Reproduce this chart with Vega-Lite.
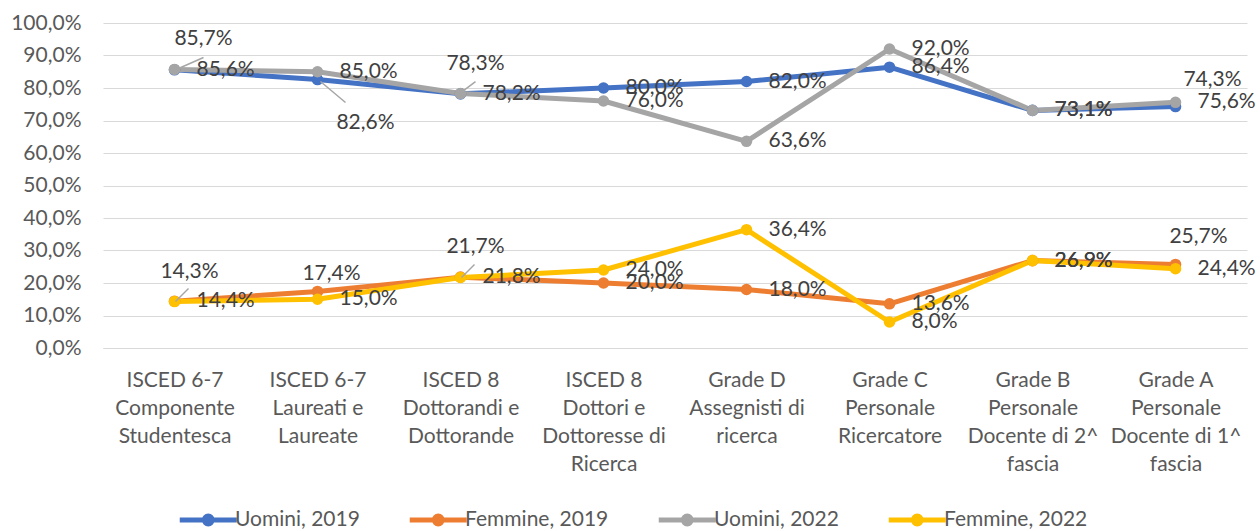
{
  "$schema": "https://vega.github.io/schema/vega-lite/v6.json",
  "width": 1144,
  "height": 325,
  "autosize": {"type": "none"},
  "padding": {"left": 103, "top": 23, "right": 13, "bottom": 183},
  "background": "white",
  "config": {
    "font": "Lato",
    "view": {"stroke": null},
    "locale": {"number": {"decimal": ",", "thousands": ".", "grouping": [3], "currency": ["€", ""]}}
  },
  "data": {
    "values": [
      {"cat": "ISCED 6-7 Componente Studentesca", "serie": "Uomini, 2019", "val": 0.856},
      {"cat": "ISCED 6-7 Laureati e Laureate", "serie": "Uomini, 2019", "val": 0.826},
      {"cat": "ISCED 8 Dottorandi e Dottorande", "serie": "Uomini, 2019", "val": 0.782},
      {"cat": "ISCED 8 Dottori e Dottoresse di Ricerca", "serie": "Uomini, 2019", "val": 0.800},
      {"cat": "Grade D Assegnisti di ricerca", "serie": "Uomini, 2019", "val": 0.820},
      {"cat": "Grade C Personale Ricercatore", "serie": "Uomini, 2019", "val": 0.864},
      {"cat": "Grade B Personale Docente di 2^ fascia", "serie": "Uomini, 2019", "val": 0.731},
      {"cat": "Grade A Personale Docente di 1^ fascia", "serie": "Uomini, 2019", "val": 0.743},
      {"cat": "ISCED 6-7 Componente Studentesca", "serie": "Femmine, 2019", "val": 0.144},
      {"cat": "ISCED 6-7 Laureati e Laureate", "serie": "Femmine, 2019", "val": 0.174},
      {"cat": "ISCED 8 Dottorandi e Dottorande", "serie": "Femmine, 2019", "val": 0.218},
      {"cat": "ISCED 8 Dottori e Dottoresse di Ricerca", "serie": "Femmine, 2019", "val": 0.200},
      {"cat": "Grade D Assegnisti di ricerca", "serie": "Femmine, 2019", "val": 0.180},
      {"cat": "Grade C Personale Ricercatore", "serie": "Femmine, 2019", "val": 0.136},
      {"cat": "Grade B Personale Docente di 2^ fascia", "serie": "Femmine, 2019", "val": 0.269},
      {"cat": "Grade A Personale Docente di 1^ fascia", "serie": "Femmine, 2019", "val": 0.257},
      {"cat": "ISCED 6-7 Componente Studentesca", "serie": "Uomini, 2022", "val": 0.857},
      {"cat": "ISCED 6-7 Laureati e Laureate", "serie": "Uomini, 2022", "val": 0.850},
      {"cat": "ISCED 8 Dottorandi e Dottorande", "serie": "Uomini, 2022", "val": 0.783},
      {"cat": "ISCED 8 Dottori e Dottoresse di Ricerca", "serie": "Uomini, 2022", "val": 0.760},
      {"cat": "Grade D Assegnisti di ricerca", "serie": "Uomini, 2022", "val": 0.636},
      {"cat": "Grade C Personale Ricercatore", "serie": "Uomini, 2022", "val": 0.920},
      {"cat": "Grade B Personale Docente di 2^ fascia", "serie": "Uomini, 2022", "val": 0.731},
      {"cat": "Grade A Personale Docente di 1^ fascia", "serie": "Uomini, 2022", "val": 0.756},
      {"cat": "ISCED 6-7 Componente Studentesca", "serie": "Femmine, 2022", "val": 0.143},
      {"cat": "ISCED 6-7 Laureati e Laureate", "serie": "Femmine, 2022", "val": 0.150},
      {"cat": "ISCED 8 Dottorandi e Dottorande", "serie": "Femmine, 2022", "val": 0.217},
      {"cat": "ISCED 8 Dottori e Dottoresse di Ricerca", "serie": "Femmine, 2022", "val": 0.240},
      {"cat": "Grade D Assegnisti di ricerca", "serie": "Femmine, 2022", "val": 0.364},
      {"cat": "Grade C Personale Ricercatore", "serie": "Femmine, 2022", "val": 0.080},
      {"cat": "Grade B Personale Docente di 2^ fascia", "serie": "Femmine, 2022", "val": 0.269},
      {"cat": "Grade A Personale Docente di 1^ fascia", "serie": "Femmine, 2022", "val": 0.244}
    ]
  },
  "encoding": {
    "x": {
      "field": "cat", "type": "nominal", "sort": null,
      "scale": {"type": "point", "padding": 0.5},
      "axis": {
        "title": null, "labelAngle": 0, "ticks": false, "grid": false,
        "domainColor": "#D9D9D9", "domainWidth": 1,
        "labelFont": "Lato", "labelFontSize": 21, "labelColor": "#595959",
        "labelLineHeight": 28, "labelPadding": 21, "labelBaseline": "top",
        "labelExpr": "datum.label == 'ISCED 6-7 Componente Studentesca' ? ['ISCED 6-7','Componente','Studentesca'] : datum.label == 'ISCED 6-7 Laureati e Laureate' ? ['ISCED 6-7','Laureati e','Laureate'] : datum.label == 'ISCED 8 Dottorandi e Dottorande' ? ['ISCED 8','Dottorandi e','Dottorande'] : datum.label == 'ISCED 8 Dottori e Dottoresse di Ricerca' ? ['ISCED 8','Dottori e','Dottoresse di','Ricerca'] : datum.label == 'Grade D Assegnisti di ricerca' ? ['Grade D','Assegnisti di','ricerca'] : datum.label == 'Grade C Personale Ricercatore' ? ['Grade C','Personale','Ricercatore'] : datum.label == 'Grade B Personale Docente di 2^ fascia' ? ['Grade B','Personale','Docente di 2^','fascia'] : ['Grade A','Personale','Docente di 1^','fascia']"
      }
    },
    "y": {
      "field": "val", "type": "quantitative",
      "scale": {"domain": [0, 1], "nice": false, "zero": true},
      "axis": {
        "title": null, "format": ".1%", "values": [0, 0.1, 0.2, 0.3, 0.4, 0.5, 0.6, 0.7, 0.8, 0.9, 1],
        "domain": false, "ticks": false, "grid": true, "gridColor": "#D9D9D9", "gridWidth": 1,
        "labelFont": "Lato", "labelFontSize": 21, "labelColor": "#595959", "labelPadding": 22
      }
    }
  },
  "layer": [
    {
      "mark": {"type": "line", "strokeWidth": 5, "strokeCap": "round", "strokeJoin": "round"},
      "encoding": {
        "color": {
          "field": "serie", "type": "nominal",
          "scale": {"domain": ["Uomini, 2019", "Femmine, 2019", "Uomini, 2022", "Femmine, 2022"], "range": ["#4472C4", "#ED7D31", "#A5A5A5", "#FFC000"]},
          "legend": {
            "title": null, "orient": "none", "direction": "horizontal", "legendX": 74, "legendY": 480,
            "symbolType": "M-1,0H3M1.28,0A0.28,0.28 0 1,1 0.72,0A0.28,0.28 0 1,1 1.28,0M1.088,0A0.088,0.088 0 1,1 0.912,0A0.088,0.088 0 1,1 1.088,0",
            "symbolSize": 812, "symbolStrokeWidth": 5, "labelOffset": 24, "columnPadding": 39,
            "labelFont": "Lato", "labelFontSize": 21, "labelColor": "#595959"
          }
        }
      }
    },
    {
      "mark": {"type": "point", "filled": true, "shape": "circle", "size": 135, "opacity": 1},
      "encoding": {"color": {"field": "serie", "type": "nominal"}}
    },
    {
      "transform": [{"filter": "datum.serie=='Uomini, 2022' && datum.val==0.857"}],
      "mark": {"type": "rule", "color": "#A6A6A6", "strokeWidth": 1.5, "xOffset": 4, "yOffset": -1, "x2Offset": 29, "y2Offset": -12},
      "encoding": {"x2": {"field": "cat"}, "y2": {"field": "val"}}
    },
    {
      "transform": [{"filter": "datum.serie=='Uomini, 2019' && datum.val==0.826"}],
      "mark": {"type": "rule", "color": "#A6A6A6", "strokeWidth": 1.5, "xOffset": 3, "yOffset": 2, "x2Offset": 28, "y2Offset": 23},
      "encoding": {"x2": {"field": "cat"}, "y2": {"field": "val"}}
    },
    {
      "transform": [{"filter": "datum.serie=='Uomini, 2022' && datum.val==0.783"}],
      "mark": {"type": "rule", "color": "#A6A6A6", "strokeWidth": 1.5, "xOffset": 3, "yOffset": -3, "x2Offset": 15, "y2Offset": -12},
      "encoding": {"x2": {"field": "cat"}, "y2": {"field": "val"}}
    },
    {
      "transform": [{"filter": "(datum.serie=='Femmine, 2022' && datum.val==0.143) || (datum.serie=='Femmine, 2022' && datum.val==0.217)"}],
      "mark": {"type": "rule", "color": "#A6A6A6", "strokeWidth": 1.5, "xOffset": 1, "yOffset": 0, "x2Offset": 14, "y2Offset": -13},
      "encoding": {"x2": {"field": "cat"}, "y2": {"field": "val"}}
    },
    {
      "transform": [{"filter": "!((datum.serie=='Uomini, 2022' && datum.val==0.857) || (datum.serie=='Uomini, 2019' && datum.val==0.826) || (datum.serie=='Uomini, 2022' && datum.val==0.783) || (datum.serie=='Femmine, 2022' && datum.val==0.143) || (datum.serie=='Femmine, 2019' && datum.val==0.174) || (datum.serie=='Femmine, 2022' && datum.val==0.217) || (datum.serie=='Uomini, 2019' && datum.val==0.743) || (datum.serie=='Femmine, 2019' && datum.val==0.257))"}],
      "mark": {"type": "text", "align": "left", "baseline": "middle", "dx": 22, "font": "Lato", "fontSize": 21, "color": "#404040"},
      "encoding": {"text": {"field": "val", "type": "quantitative", "format": ".1%"}}
    },
    {
      "transform": [{"filter": "datum.serie=='Uomini, 2022' && datum.val==0.857"}],
      "mark": {"type": "text", "align": "center", "baseline": "middle", "dx": 29, "dy": -30, "font": "Lato", "fontSize": 21, "color": "#404040"},
      "encoding": {"text": {"field": "val", "type": "quantitative", "format": ".1%"}}
    },
    {
      "transform": [{"filter": "datum.serie=='Uomini, 2019' && datum.val==0.826"}],
      "mark": {"type": "text", "align": "center", "baseline": "middle", "dx": 48, "dy": 43, "font": "Lato", "fontSize": 21, "color": "#404040"},
      "encoding": {"text": {"field": "val", "type": "quantitative", "format": ".1%"}}
    },
    {
      "transform": [{"filter": "(datum.serie=='Uomini, 2022' && datum.val==0.783) || (datum.serie=='Femmine, 2022' && datum.val==0.143) || (datum.serie=='Femmine, 2022' && datum.val==0.217)"}],
      "mark": {"type": "text", "align": "center", "baseline": "middle", "dx": 15, "dy": -30, "font": "Lato", "fontSize": 21, "color": "#404040"},
      "encoding": {"text": {"field": "val", "type": "quantitative", "format": ".1%"}}
    },
    {
      "transform": [{"filter": "datum.serie=='Femmine, 2019' && datum.val==0.174"}],
      "mark": {"type": "text", "align": "center", "baseline": "middle", "dx": 14, "dy": -17, "font": "Lato", "fontSize": 21, "color": "#404040"},
      "encoding": {"text": {"field": "val", "type": "quantitative", "format": ".1%"}}
    },
    {
      "transform": [{"filter": "datum.serie=='Uomini, 2019' && datum.val==0.743"}],
      "mark": {"type": "text", "align": "center", "baseline": "middle", "dx": 37, "dy": -27, "font": "Lato", "fontSize": 21, "color": "#404040"},
      "encoding": {"text": {"field": "val", "type": "quantitative", "format": ".1%"}}
    },
    {
      "transform": [{"filter": "datum.serie=='Femmine, 2019' && datum.val==0.257"}],
      "mark": {"type": "text", "align": "center", "baseline": "middle", "dx": 23, "dy": -27, "font": "Lato", "fontSize": 21, "color": "#404040"},
      "encoding": {"text": {"field": "val", "type": "quantitative", "format": ".1%"}}
    }
  ]
}
